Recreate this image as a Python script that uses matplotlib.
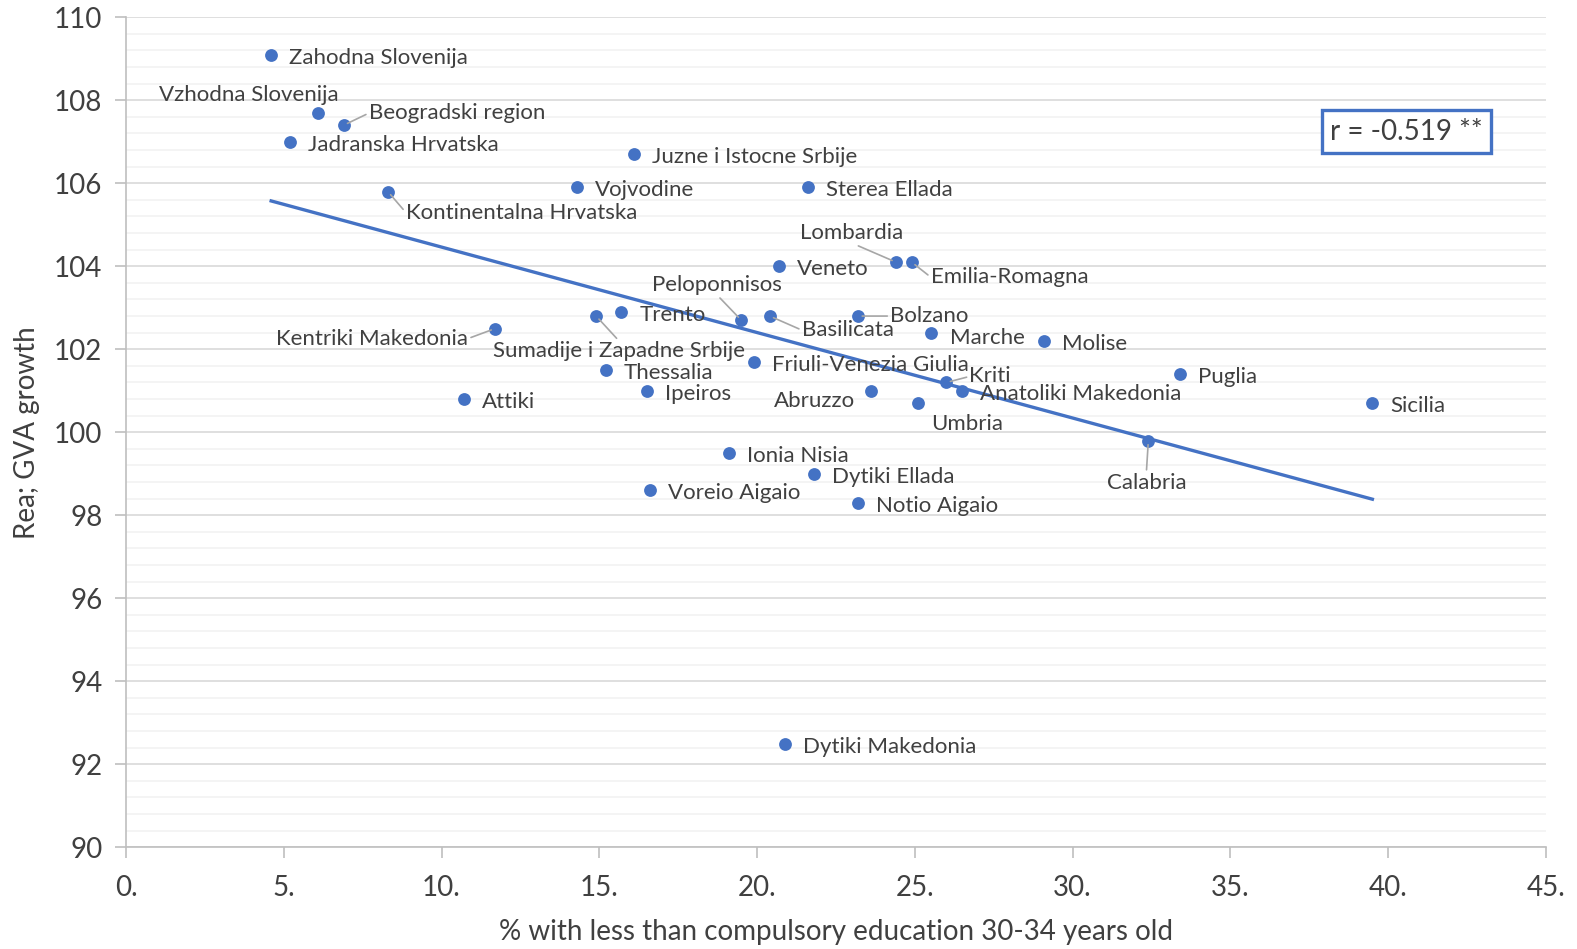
import matplotlib
matplotlib.use('Agg')
import matplotlib.pyplot as plt
import numpy as np
from matplotlib.ticker import MultipleLocator, FuncFormatter

plt.rcParams['font.family'] = ['Lato', 'DejaVu Sans']

# ~~~~~~~~~~~~~~~~~~~~~~~~~~~~~~~~~~~~~~~~~~ Data ~~~~~~~~~~~~~~~~~~~~~~~~~~~~~~~~~~~~~~~~~~
regions = ['Zahodna Slovenija', 'Vzhodna Slovenija', 'Beogradski region', 'Jadranska Hrvatska',
           'Kontinentalna Hrvatska', 'Juzne i Istocne Srbije', 'Vojvodine', 'Sterea Ellada',
           'Lombardia', 'Emilia-Romagna', 'Veneto', 'Peloponnisos', 'Basilicata', 'Bolzano',
           'Trento', 'Sumadije i Zapadne Srbije', 'Kentriki Makedonia', 'Marche', 'Molise',
           'Friuli-Venezia Giulia', 'Thessalia', 'Puglia', 'Kriti', 'Anatoliki Makedonia',
           'Ipeiros', 'Abruzzo', 'Attiki', 'Sicilia', 'Umbria', 'Calabria', 'Ionia Nisia',
           'Dytiki Ellada', 'Voreio Aigaio', 'Notio Aigaio', 'Dytiki Makedonia']
low_edu = [4.6, 6.1, 6.9, 5.2, 8.3, 16.1, 14.3, 21.6, 24.4, 24.9, 20.7, 19.5, 20.4, 23.2,
           15.7, 14.9, 11.7, 25.5, 29.1, 19.9, 15.2, 33.4, 26.0, 26.5, 16.5, 23.6, 10.7,
           39.5, 25.1, 32.4, 19.1, 21.8, 16.6, 23.2, 20.9]
gva_growth = [109.1, 107.7, 107.4, 107.0, 105.8, 106.7, 105.9, 105.9, 104.1, 104.1, 104.0,
              102.7, 102.8, 102.8, 102.9, 102.8, 102.5, 102.4, 102.2, 101.7, 101.5, 101.4,
              101.2, 101.0, 101.0, 101.0, 100.8, 100.7, 100.7, 99.8, 99.5, 99.0, 98.6,
              98.3, 92.5]
r_value = -0.519

# label placement (offset in pixels from the point, alignment, leader line)
label_pos = {
    'Vzhodna Slovenija': (-70, 21, 'center', False),
    'Beogradski region': (25, 15, 'left', True),
    'Kontinentalna Hrvatska': (18, -18, 'left', True),
    'Lombardia': (-44, 32, 'center', True),
    'Emilia-Romagna': (19, -12, 'left', True),
    'Peloponnisos': (-24, 38, 'center', True),
    'Basilicata': (32, -11, 'left', True),
    'Bolzano': (32, 3, 'left', True),
    'Sumadije i Zapadne Srbije': (23, -32, 'center', True),
    'Kentriki Makedonia': (-27, -7, 'right', True),
    'Marche': (19, -2, 'left', False),
    'Kriti': (23, 9, 'left', True),
    'Abruzzo': (-16, -7, 'right', False),
    'Umbria': (13, -18, 'left', False),
    'Calabria': (-2, -39, 'center', True),
}
text_shift = -3  # Lato sits a little high compared with the original font

blue = '#4472C4'
text_col = '#404040'

fig = plt.figure(figsize=(15.77, 9.49), dpi=100)
ax = fig.add_axes([0.0799, 0.1072, 0.9004, 0.8746])

ax.scatter(low_edu, gva_growth, s=85, color=blue, zorder=3, linewidths=0)

# Linear trend line
coef = np.polyfit(low_edu, gva_growth, 1)
xs = np.array([min(low_edu), max(low_edu)])
ax.plot(xs, np.polyval(coef, xs), color=blue, lw=2.4, zorder=2)

# Data labels
for name, x, y in zip(regions, low_edu, gva_growth):
    dx, dy, ha, leader = label_pos.get(name, (18, 0, 'left', False))
    arrow = None
    if leader:
        rel = {'left': (0, 0.5), 'right': (1, 0.5), 'center': (0.5, 0.0 if dy > 0 else 1.0)}[ha]
        arrow = dict(arrowstyle='-', color='#A6A6A6', lw=1.2, shrinkA=0, shrinkB=3, relpos=rel)
    ax.annotate(name, (x, y), xytext=(dx, dy + text_shift), textcoords='offset pixels', ha=ha,
                va='center', fontsize=16, color=text_col, arrowprops=arrow, zorder=4)

# r box
ax.text(0.902, 0.862, f'r = {r_value:.3f} **', transform=ax.transAxes, ha='center', va='center',
        fontsize=20, color=text_col,
        bbox=dict(boxstyle='square,pad=0.3', fc='white', ec=blue, lw=2.4))

# Axes and grid
ax.set_xlim(0, 45)
ax.set_ylim(90, 110)
ax.xaxis.set_major_locator(MultipleLocator(5))
ax.yaxis.set_major_locator(MultipleLocator(2))
ax.yaxis.set_minor_locator(MultipleLocator(0.4))
ax.xaxis.set_major_formatter(FuncFormatter(lambda v, p: f'{int(v)}.'))
ax.yaxis.set_major_formatter(FuncFormatter(lambda v, p: f'{int(v)}'))
ax.grid(axis='y', which='major', color='#D9D9D9', lw=1.2)
ax.grid(axis='y', which='minor', color='#F2F2F2', lw=1.2)
ax.set_axisbelow(True)
for side in ['top', 'right']:
    ax.spines[side].set_visible(False)
for side in ['left', 'bottom']:
    ax.spines[side].set_color('#BFBFBF')
    ax.spines[side].set_linewidth(1.2)
ax.tick_params(axis='both', which='major', length=8, color='#BFBFBF', width=1.2,
               labelsize=20, labelcolor=text_col, pad=9)
ax.tick_params(axis='x', which='major', pad=12)
ax.tick_params(axis='y', which='minor', length=0)

ax.set_xlabel('% with less than compulsory education 30-34 years old', fontsize=20,
              color=text_col, labelpad=13)
ax.set_ylabel('Rea; GVA growth', fontsize=20, color=text_col, labelpad=10)

fig.savefig('out.png', dpi=100)
